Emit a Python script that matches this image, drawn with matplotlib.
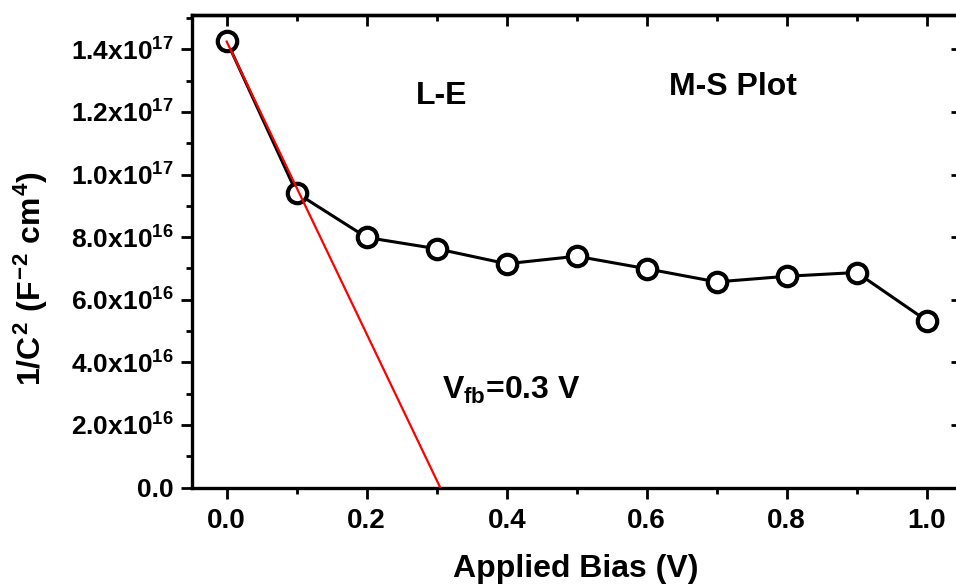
import numpy as np
import matplotlib
matplotlib.use("Agg")
import matplotlib.pyplot as plt
from matplotlib.ticker import MultipleLocator, FuncFormatter

plt.rcParams['font.family'] = ['Liberation Sans', 'DejaVu Sans']
plt.rcParams['font.weight'] = 'bold'
plt.rcParams['mathtext.fontset'] = 'custom'
plt.rcParams['mathtext.rm'] = 'Liberation Sans:bold'
plt.rcParams['mathtext.it'] = 'Liberation Sans:bold'
plt.rcParams['mathtext.bf'] = 'Liberation Sans:bold'

# data
bias = [0.0, 0.1, 0.2, 0.3, 0.4, 0.5, 0.6, 0.7, 0.8, 0.9, 1.0]
inv_c2 = [1.427e17, 9.41e16, 7.99e16, 7.63e16, 7.15e16, 7.39e16,
          6.99e16, 6.57e16, 6.75e16, 6.87e16, 5.33e16]
fit_x = [0.0, 0.305]
fit_y = [1.425e17, 0.0]

fig = plt.figure(figsize=(9.56, 5.87), dpi=100)
ax = fig.add_axes([0.2005, 0.1695, 0.8055, 0.805])

ax.plot(bias, inv_c2, color='black', lw=2.2, marker='o', ms=14,
        mfc='white', mec='black', mew=3, zorder=3)
ax.plot(fit_x, fit_y, color='red', lw=1.6, zorder=4)

ax.set_xlim(-0.05, 1.05)
ax.set_ylim(0, 1.51e17)

def yfmt(v, pos):
    if v < 0:
        return ''
    if v < 1:
        return '0.0'
    e = int(np.floor(np.log10(v)))
    m = v / 10**e
    return r'$%.1fx10^{%d}$' % (m, e)

ax.xaxis.set_major_locator(MultipleLocator(0.2))
ax.xaxis.set_minor_locator(MultipleLocator(0.1))
ax.yaxis.set_major_locator(MultipleLocator(2e16))
ax.yaxis.set_minor_locator(MultipleLocator(1e16))
ax.yaxis.set_major_formatter(FuncFormatter(yfmt))
ax.xaxis.set_major_formatter(FuncFormatter(lambda v, p: '%.1f' % v))

for s in ax.spines.values():
    s.set_linewidth(2.4)

ax.tick_params(which='both', direction='out', width=2)
ax.tick_params(which='major', length=8)
ax.tick_params(which='minor', length=4)
ax.tick_params(axis='x', labelsize=20, pad=7)
ax.tick_params(axis='y', labelsize=19, pad=5)

# mirror ticks on top and right, pointing inward
top = ax.secondary_xaxis('top')
top.xaxis.set_major_locator(MultipleLocator(0.2))
top.xaxis.set_minor_locator(MultipleLocator(0.1))
right = ax.secondary_yaxis('right')
right.yaxis.set_major_locator(MultipleLocator(2e16))
right.yaxis.set_minor_locator(MultipleLocator(1e16))
for sec in (top, right):
    sec.tick_params(which='both', direction='in', width=2,
                    labeltop=False, labelright=False)
    sec.tick_params(which='major', length=8)
    sec.tick_params(which='minor', length=4)
    for s in sec.spines.values():
        s.set_linewidth(2.4)

fig.text(0.602, 0.017, 'Applied Bias (V)', fontsize=23, fontweight='bold',
         ha='center', va='baseline')
fig.text(0.032, 0.5256, r'$1/C^2\ (F^{-2}\ cm^4)$', fontsize=23,
         rotation=90, ha='center', va='center')

ax.text(0.3076, 1.224e17, 'L-E', fontsize=23, ha='center', va='baseline')
ax.text(0.723, 1.253e17, 'M-S Plot', fontsize=23, ha='center', va='baseline')
ax.text(0.406, 2.83e16, r'$V_{fb}$=0.3 V', fontsize=23, ha='center',
        va='baseline')

fig.savefig('out.png', dpi=100)
